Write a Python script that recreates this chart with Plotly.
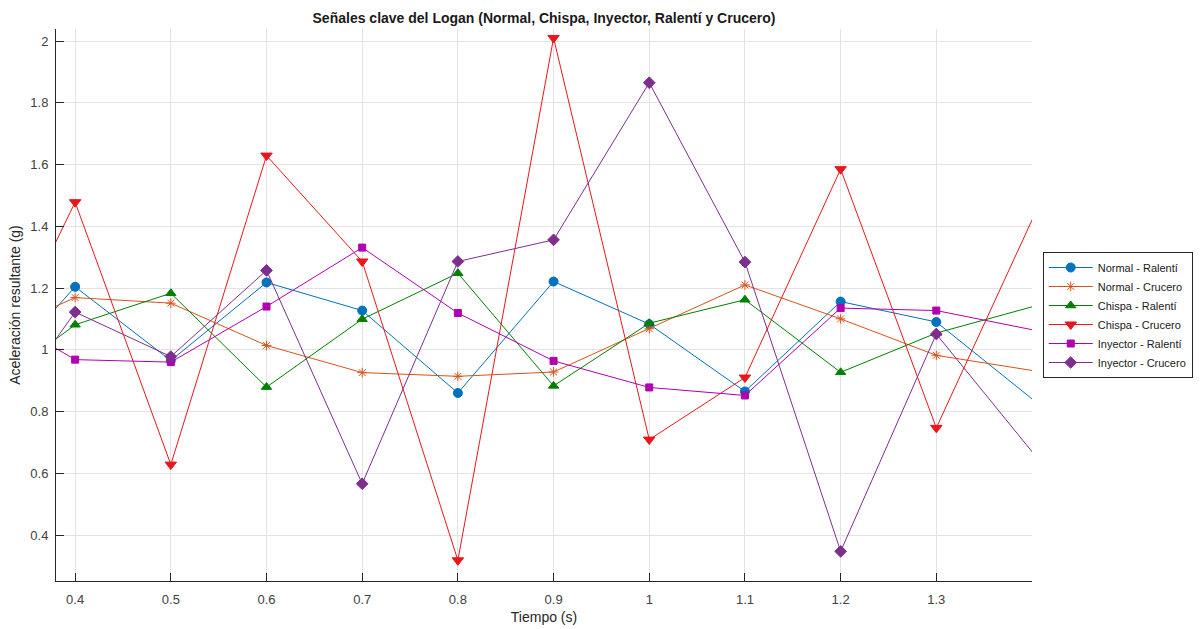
import plotly.graph_objects as go

# Time axis (s) - points at 0.3 and 1.5 lie outside the visible window
t = [0.3, 0.4, 0.5, 0.6, 0.7, 0.8, 0.9, 1.0, 1.1, 1.2, 1.3, 1.5]

normal_ralenti  = [0.86, 1.204, 0.965, 1.218, 1.127, 0.860, 1.221, 1.083, 0.865, 1.156, 1.090, 0.592]
normal_crucero  = [1.03, 1.169, 1.151, 1.014, 0.926, 0.914, 0.928, 1.068, 1.210, 1.100, 0.982, 0.884]
chispa_ralenti  = [0.85, 1.081, 1.183, 0.879, 1.099, 1.248, 0.883, 1.086, 1.162, 0.927, 1.054, 1.224]
chispa_crucero  = [0.84, 1.478, 0.628, 1.629, 1.286, 0.318, 2.010, 0.709, 0.910, 1.585, 0.747, 2.093]
inyector_ralenti = [1.15, 0.968, 0.960, 1.140, 1.331, 1.119, 0.964, 0.878, 0.852, 1.135, 1.127, 1.003]
inyector_crucero = [0.687, 1.122, 0.978, 1.257, 0.566, 1.286, 1.356, 1.865, 1.284, 0.347, 1.051, 0.289]

names = ["Normal - Ralentí", "Normal - Crucero", "Chispa - Ralentí",
         "Chispa - Crucero", "Inyector - Ralentí", "Inyector - Crucero"]
series = [normal_ralenti, normal_crucero, chispa_ralenti,
          chispa_crucero, inyector_ralenti, inyector_crucero]
colors = ["#0072BD", "#D95319", "#008000", "#E8171C", "#B000B0", "#7E2F8E"]
symbols = ["circle", "asterisk-open", "triangle-up", "triangle-down", "square", "diamond"]
msizes = [9, 8, 9, 10, 7, 9]

x_tickvals = [0.4, 0.5, 0.6, 0.7, 0.8, 0.9, 1.0, 1.1, 1.2, 1.3]
x_ticktext = ["0.4", "0.5", "0.6", "0.7", "0.8", "0.9", "1", "1.1", "1.2", "1.3"]
y_tickvals = [0.4, 0.6, 0.8, 1.0, 1.2, 1.4, 1.6, 1.8, 2.0]
y_ticktext = ["0.4", "0.6", "0.8", "1", "1.2", "1.4", "1.6", "1.8", "2"]

fig = go.Figure()
for name, ys, c, s, ms in zip(names, series, colors, symbols, msizes):
    fig.add_trace(go.Scatter(
        x=t, y=ys, name=name, mode="lines+markers",
        line=dict(color=c, width=1),
        marker=dict(symbol=s, size=ms, color=c, line=dict(color=c, width=1)),
    ))

axis_common = dict(
    showgrid=True, gridcolor="#e3e3e3", gridwidth=1,
    showline=True, linecolor="#262626", linewidth=1, mirror=False,
    ticks="inside", ticklen=8, tickcolor="#262626", tickwidth=1,
    tickfont=dict(family="Liberation Sans, Arial", size=13, color="#404040"),
    zeroline=False, automargin=False,
)

fig.update_layout(
    width=1200, height=629,
    margin=dict(l=56, r=168, t=29, b=48, autoexpand=False),
    paper_bgcolor="white", plot_bgcolor="white",
    font=dict(family="Liberation Sans, Arial", color="#262626"),
    title=dict(
        text="<b>Señales clave del Logan (Normal, Chispa, Inyector, Ralentí y Crucero)</b>",
        x=0.5, xref="paper", xanchor="center", y=0.972, yref="container", yanchor="middle",
        font=dict(size=14, color="#1a1a1a"),
    ),
    xaxis=dict(
        range=[0.38, 1.4], tickvals=x_tickvals, ticktext=x_ticktext,
        ticklabelstandoff=6,
        title=dict(text="Tiempo (s)", font=dict(size=14, color="#262626"), standoff=6),
        **axis_common,
    ),
    yaxis=dict(
        range=[0.251, 2.039], tickvals=y_tickvals, ticktext=y_ticktext,
        ticklabelstandoff=4,
        title=dict(text="Aceleración resultante (g)", font=dict(size=14, color="#262626"), standoff=6),
        **axis_common,
    ),
    legend=dict(
        x=1.011, y=0.596, xanchor="left", yanchor="top",
        bordercolor="#262626", borderwidth=1, bgcolor="white",
        font=dict(family="Liberation Sans, Arial", size=11, color="#1a1a1a"),
        itemwidth=44, tracegroupgap=0,
    ),
)

fig.write_html("out.html")
